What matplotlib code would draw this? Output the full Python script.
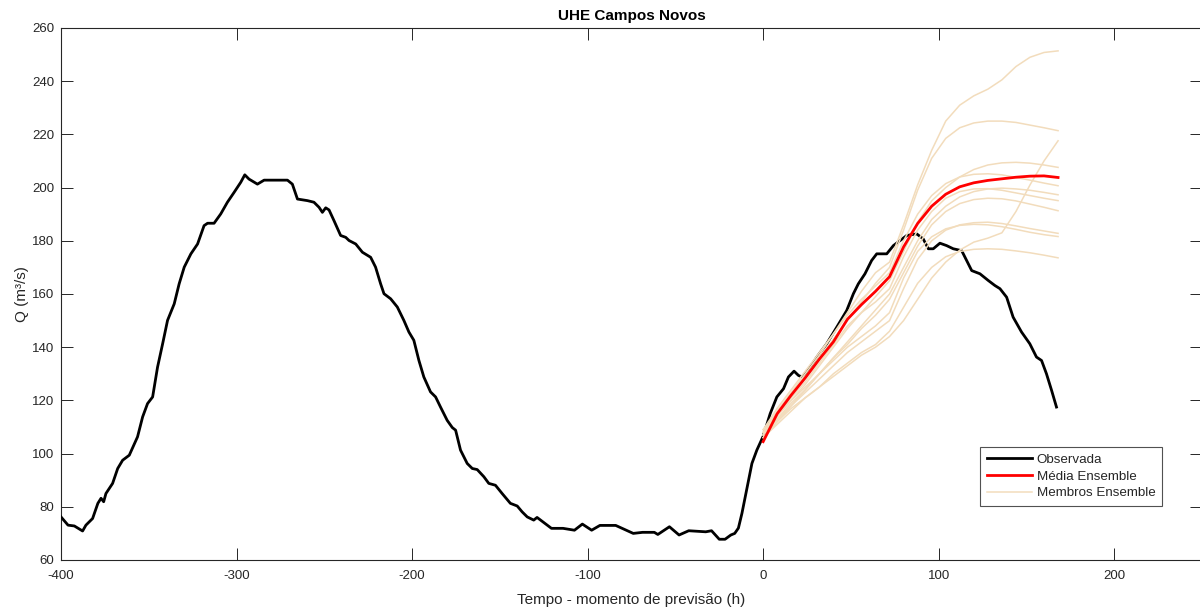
import matplotlib
matplotlib.use("Agg")
import matplotlib.pyplot as plt
from matplotlib.lines import Line2D

plt.rcParams['font.family'] = ['Liberation Sans', 'DejaVu Sans']
plt.rcParams['axes.unicode_minus'] = False

# Observed discharge (hours relative to forecast time, m3/s)
obs_hours = [-400, -396, -392.4, -387.7, -385.8, -382, -379, -377.2, -375.7, -374.4,
             -370.6, -367.7, -364.9, -361.1, -356.4, -353.5, -350.7, -347.8, -345, -342.1,
             -339.3, -335.5, -332.7, -329.8, -326, -322.2, -318.5, -316.5, -312.8, -309,
             -305.2, -301.4, -297.6, -295.3, -292.9, -288.1, -284.3, -271, -268.2, -265.3,
             -259.6, -255.9, -253, -251.1, -249.2, -247.3, -244.5, -240.7, -237.8, -235.9,
             -232.1, -228.3, -223.6, -220.8, -217.9, -216, -212.2, -208.4, -204.7, -201.8,
             -199, -196.1, -193.3, -189.5, -186.6, -183.8, -180, -177.1, -175.2, -172.4,
             -168.6, -165.7, -162.9, -159.1, -156.3, -152.5, -148.7, -144, -140.1, -137.3,
             -134.4, -130.7, -128.8, -120.6, -114, -107.5, -103, -97.7, -93, -84,
             -74, -68.7, -62, -60, -53.4, -47.9, -42.4, -32.7, -29.4, -25,
             -21.7, -18.4, -16.2, -14.1, -12.1, -10.2, -8.3, -6.4, -3.6, 0,
             4, 7.8, 11.6, 14.4, 17.6, 20.1, 22, 24.9, 30.6, 36.2,
             41.9, 47.6, 51.4, 54.2, 58, 61.8, 64.7, 70.4, 74.2, 78,
             81.8, 87.5, 91.2, 94.1, 96.9, 100.7, 104.5, 108.3, 113.1, 115.9,
             118.8, 123.5, 128.2, 132, 134.9, 138.7, 142.4, 147.2, 151.9, 155.7,
             158.6, 161.4, 164.3, 167.1]
obs_flow = [76.2, 73.1, 72.8, 70.9, 73.1, 75.6, 81.3, 83.2, 81.9, 85,
            88.8, 94.4, 97.5, 99.4, 106.3, 113.8, 118.8, 121.3, 132.5, 141.3,
            150.1, 156.3, 163.8, 170.1, 175.1, 178.8, 185.7, 186.6, 186.6, 190.1,
            194.5, 198.2, 202, 204.8, 203.2, 201.3, 202.8, 202.8, 201.3, 195.7,
            195.1, 194.5, 192.6, 190.7, 192.4, 191.6, 187.6, 182, 181.3, 180.1,
            178.8, 175.7, 173.8, 170.1, 163.8, 160.1, 158.2, 155.1, 150.1, 145.7,
            142.6, 135, 128.8, 123.2, 121.3, 117.5, 112.5, 109.8, 108.8, 101.3,
            96.3, 94.4, 94, 91.3, 88.8, 88.1, 85, 81.3, 80.3, 78.1,
            76.2, 75, 76, 71.9, 71.9, 71.2, 73.5, 71.2, 73, 73,
            70, 70.4, 70.4, 69.6, 72.5, 69.4, 71, 70.6, 71, 67.8,
            67.8, 69.4, 70, 72, 77.5, 83.8, 90, 96.3, 101.3, 106.5,
            115, 121.3, 124.4, 128.8, 131, 129.4, 128.8, 130.7, 136.3, 141.3,
            147.5, 153.8, 160.1, 163.8, 167.6, 172.6, 175.1, 175.1, 178.2, 180.1,
            182, 182.6, 180.7, 177, 177, 179.1, 178.2, 177, 176.3, 172.6,
            168.8, 167.6, 165.1, 163.2, 162, 158.8, 151.3, 145.7, 141.3, 136.3,
            135, 130, 123.8, 117.5]

# Forecast horizon (h)
fc_hours = [0, 8, 16, 24, 32, 40, 48, 56, 64, 72, 80, 88, 96, 104, 112, 120,
            128, 136, 144, 152, 160, 168]

# Ensemble members
members = [
    [108, 116, 123, 130, 137, 145, 153, 161, 168, 172, 186, 201, 214, 225, 231, 234.5,
     237, 240.5, 245.5, 249, 250.8, 251.4],
    [107, 115, 122, 129, 136, 143, 150, 157, 164, 170, 184, 199, 211, 218.5, 222.5, 224.3,
     225, 225, 224.5, 223.5, 222.5, 221.4],
    [107, 114, 120, 126, 133, 140, 147, 153, 159, 165, 176, 187, 195, 200, 204, 206.8,
     208.5, 209.3, 209.5, 209.2, 208.5, 207.6],
    [109, 117, 124, 131, 138, 145, 152, 158, 163, 168, 180, 190, 197, 201.5, 204, 205,
     205.2, 204.8, 203.8, 202.8, 201.7, 200.7],
    [106, 112, 118, 124, 130, 136, 142, 148, 154, 160, 170, 180, 188, 193, 196.5, 198.5,
     199.5, 199.8, 199.5, 199, 198.2, 197.3],
    [108, 115, 121, 127, 134, 141, 148, 153, 157, 162, 174, 184, 191, 196, 198.5, 199.5,
     199.6, 199, 198, 197, 196, 195.1],
    [107, 113, 119, 124, 130, 136, 141, 147, 152, 158, 168, 178, 186, 191, 194, 195.5,
     196, 195.8, 195, 193.8, 192.6, 191.3],
    [106, 111, 116, 121, 125, 130, 134, 138, 141, 146, 155, 164, 170, 174, 176, 176.8,
     177, 176.8, 176.2, 175.5, 174.6, 173.6],
    [108, 113, 118, 123, 128, 133, 138, 142, 146, 150, 162, 173, 180, 184, 186, 186.8,
     187, 186.5, 185.6, 184.6, 183.7, 182.8],
    [109, 115, 120, 125, 130, 135, 140, 144, 148, 153, 166, 176, 181.5, 184.5, 185.8, 186.2,
     186, 185.3, 184.3, 183.2, 182.3, 181.6],
    [106, 112, 117, 121, 125, 129, 133, 137, 140, 144, 150, 158, 166, 172, 176.5, 179.5,
     181, 183, 191, 201, 210, 217.6],
]

# Ensemble mean
ens_mean = [104.5, 115, 122, 128.5, 135.5, 142, 150.5, 156, 161, 166.5, 177.7, 186.5,
            193, 197.5, 200.3, 201.8, 202.7, 203.3, 203.9, 204.3, 204.4, 203.8]

x_ticks = [-400, -300, -200, -100, 0, 100, 200]
y_ticks = [60, 80, 100, 120, 140, 160, 180, 200, 220, 240, 260]

dark = '#262626'
member_color = '#F2DCBC'

fig = plt.figure(figsize=(12, 6.08), dpi=100)
ax = fig.add_axes([61 / 1200, 48 / 608, 1141 / 1200, 532 / 608])

ax.plot(obs_hours, obs_flow, color='black', lw=2.0, zorder=3)
for m in members:
    ax.plot(fc_hours, m, color=member_color, lw=1.1, zorder=4)
ax.plot(fc_hours, ens_mean, color='red', lw=2.0, zorder=5)

ax.set_xlim(-400, 250)
ax.set_ylim(60, 260)
ax.set_xticks(x_ticks)
ax.set_yticks(y_ticks)
ax.tick_params(direction='in', length=8.5, width=0.7, colors=dark, labelsize=9.5,
               top=True, right=True)
ax.tick_params(axis='x', pad=7)
ax.tick_params(axis='y', pad=5)
for s in ax.spines.values():
    s.set_color(dark)
    s.set_linewidth(0.8)

ax.set_title('UHE Campos Novos', fontsize=11, fontweight='bold', color='black', pad=6)
ax.set_xlabel('Tempo - momento de previsão (h)', fontsize=11, color=dark, labelpad=8)
ax.set_ylabel('Q (m³/s)', fontsize=11, color=dark, labelpad=2)

handles = [Line2D([], [], color='black', lw=2.0),
           Line2D([], [], color='red', lw=2.0),
           Line2D([], [], color=member_color, lw=1.1)]
leg = ax.legend(handles, ['Observada', 'Média Ensemble', 'Membros Ensemble'],
                loc='upper left', bbox_to_anchor=(980 / 1200, 1 - 447 / 608),
                bbox_transform=fig.transFigure, fontsize=9.6, frameon=True,
                fancybox=False, borderpad=0.5, labelspacing=0.32,
                handlelength=3.4, handletextpad=0.35, borderaxespad=0)
leg.get_frame().set_edgecolor(dark)
leg.get_frame().set_linewidth(0.8)
for t in leg.get_texts():
    t.set_color(dark)

fig.savefig('out.png', dpi=100)
